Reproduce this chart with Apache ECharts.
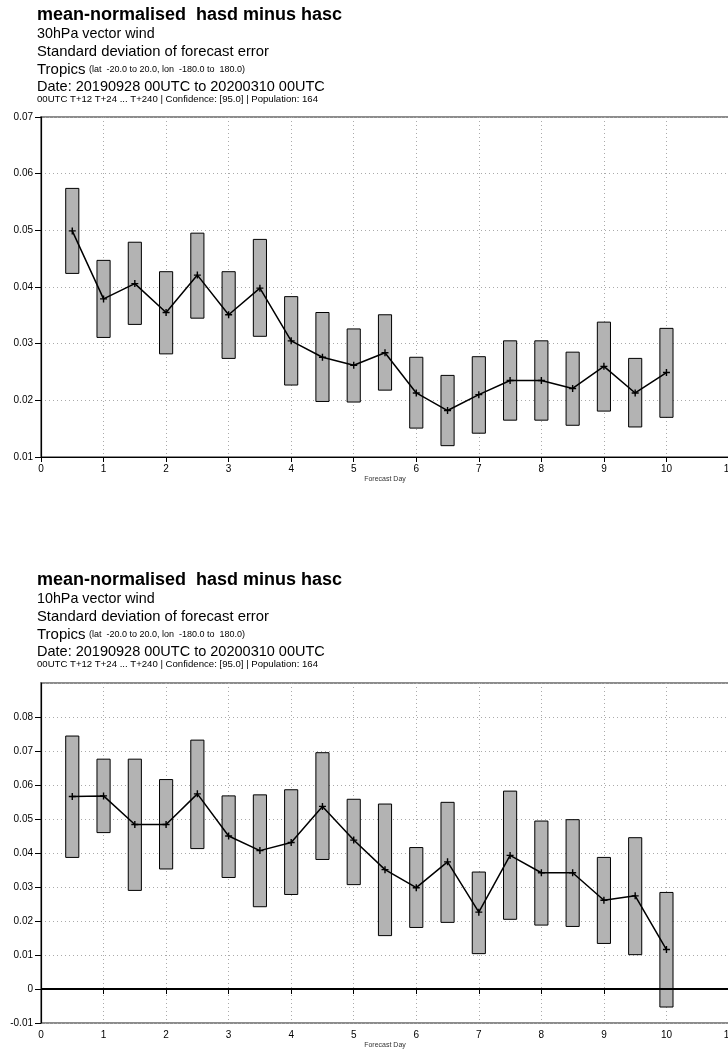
<!DOCTYPE html>
<html>
<head>
<meta charset="utf-8">
<script src="https://cdn.jsdelivr.net/npm/echarts@6/dist/echarts.min.js"></script>
<style>
  html, body { margin: 0; padding: 0; background: #fff; }
  #chart { width: 728px; height: 1051px; }
</style>
</head>
<body>
<div id="chart"></div>
<script>
// Forecast steps (days)
const days = [0.5, 1, 1.5, 2, 2.5, 3, 3.5, 4, 4.5, 5, 5.5, 6, 6.5, 7, 7.5, 8, 8.5, 9, 9.5, 10];

// 30hPa vector wind: mean-normalised difference and 95% confidence range
const mean30  = [0.0499, 0.0379, 0.0406, 0.0355, 0.0421, 0.0351, 0.0398, 0.0305, 0.0276, 0.0262,
                 0.0284, 0.0213, 0.0182, 0.0210, 0.0235, 0.0235, 0.0221, 0.0260, 0.0213, 0.0249];
const upper30 = [0.0574, 0.0447, 0.0479, 0.0427, 0.0495, 0.0427, 0.0484, 0.0383, 0.0355, 0.0326,
                 0.0351, 0.0276, 0.0244, 0.0277, 0.0305, 0.0305, 0.0285, 0.0338, 0.0274, 0.0327];
const lower30 = [0.0424, 0.0311, 0.0334, 0.0282, 0.0345, 0.0274, 0.0313, 0.0227, 0.0198, 0.0197,
                 0.0218, 0.0151, 0.0120, 0.0142, 0.0165, 0.0165, 0.0156, 0.0181, 0.0153, 0.0170];

// 10hPa vector wind
const mean10  = [0.0566, 0.0568, 0.0484, 0.0484, 0.0574, 0.0450, 0.0407, 0.0431, 0.0537, 0.0438,
                 0.0351, 0.0298, 0.0374, 0.0226, 0.0393, 0.0342, 0.0342, 0.0261, 0.0274, 0.0116];
const upper10 = [0.0744, 0.0676, 0.0676, 0.0616, 0.0732, 0.0568, 0.0571, 0.0586, 0.0695, 0.0558,
                 0.0544, 0.0416, 0.0549, 0.0344, 0.0582, 0.0494, 0.0498, 0.0387, 0.0445, 0.0284];
const lower10 = [0.0387, 0.0460, 0.0290, 0.0353, 0.0413, 0.0328, 0.0242, 0.0278, 0.0381, 0.0307,
                 0.0157, 0.0181, 0.0196, 0.0104, 0.0205, 0.0188, 0.0184, 0.0134, 0.0101, -0.0053];

// Header text for each panel
const titleText = 'mean-normalised  hasd minus hasc';
const paramTop = '30hPa vector wind';
const paramBottom = '10hPa vector wind';
const scoreText = 'Standard deviation of forecast error';
const areaName = 'Tropics';
const areaBox = '(lat  -20.0 to 20.0, lon  -180.0 to  180.0)';
const dateText = 'Date: 20190928 00UTC to 20200310 00UTC';
const infoText = '00UTC T+12 T+24 ... T+240 | Confidence: [95.0] | Population: 164';
const xName = 'Forecast Day';

const FONT = '"Liberation Sans", Arial, Helvetica, sans-serif';

const chart = echarts.init(document.getElementById('chart'), null, { renderer: 'canvas' });

function headerLine(x, y, style) {
  return { type: 'text', x: x, y: y, style: Object.assign({ fill: '#000', verticalAlign: 'middle', align: 'left' }, style) };
}

function header(offsetY, param) {
  const x = 37;
  return [
    headerLine(x, offsetY + 15, { text: titleText, font: 'bold 18px ' + FONT }),
    headerLine(x, offsetY + 34, { text: param, font: '14.3px ' + FONT }),
    headerLine(x, offsetY + 51.5, { text: scoreText, font: '14.8px ' + FONT }),
    headerLine(x, offsetY + 69.5, {
      text: '{a|' + areaName + '} {b|' + areaBox + '}',
      rich: {
        a: { font: '15px ' + FONT, fill: '#000' },
        b: { font: '9px ' + FONT, fill: '#000' }
      }
    }),
    headerLine(x, offsetY + 86.5, { text: dateText, font: '14.5px ' + FONT }),
    headerLine(x, offsetY + 99.5, { text: infoText, font: '9.6px ' + FONT })
  ];
}

function fmt(v) {
  if (Math.abs(v) < 1e-9) return '0';
  return v.toFixed(2);
}

function xAxisCfg(gridIndex) {
  return {
    type: 'value', gridIndex: gridIndex, min: 0, max: 11, interval: 1,
    name: xName, nameLocation: 'middle', nameGap: 19,
    nameTextStyle: { fontFamily: FONT, fontSize: 7, color: '#333' },
    axisLine: { show: true, lineStyle: { color: '#000', width: 1.2 } },
    axisTick: { show: true, length: 5, lineStyle: { color: '#000' } },
    axisLabel: { fontFamily: FONT, fontSize: 10, color: '#000', margin: 7 },
    splitLine: { show: true, lineStyle: { color: '#aaa', type: [1, 3], width: 1 } }
  };
}

function yAxisCfg(gridIndex, min, max, showMax) {
  return {
    type: 'value', gridIndex: gridIndex, min: min, max: max, interval: 0.01,
    axisLine: { show: true, lineStyle: { color: '#000', width: 1.2 } },
    axisTick: { show: true, length: 6, lineStyle: { color: '#000' } },
    axisLabel: { fontFamily: FONT, fontSize: 10, color: '#000', margin: 8, formatter: fmt, showMaxLabel: showMax },
    splitLine: { show: true, lineStyle: { color: '#aaa', type: [1, 3], width: 1 } }
  };
}

// Confidence range drawn as a box centred on each forecast step
function boxRenderer(params, api) {
  const x = api.value(0);
  const lo = api.value(1);
  const hi = api.value(2);
  const pTop = api.coord([x, hi]);
  const pBot = api.coord([x, lo]);
  const w = api.size([0.21, 0])[0];
  return {
    type: 'rect',
    shape: { x: pTop[0] - w / 2, y: pTop[1], width: w, height: pBot[1] - pTop[1] },
    style: { fill: '#b3b3b3', stroke: '#000', lineWidth: 1 }
  };
}

const plus = 'path://M4,0h2v4h4v2h-4v4h-2v-4h-4v-2h4z';

function panelSeries(idx, lower, upper, mean, zeroLine) {
  const boxes = days.map((d, i) => [d, lower[i], upper[i]]);
  const line = days.map((d, i) => [d, mean[i]]);
  const s = [
    {
      type: 'custom', xAxisIndex: idx, yAxisIndex: idx,
      renderItem: boxRenderer, data: boxes, z: 2, silent: true
    },
    {
      type: 'line', xAxisIndex: idx, yAxisIndex: idx, data: line, z: 3,
      symbol: plus, symbolSize: 7, showSymbol: true,
      itemStyle: { color: '#000' },
      lineStyle: { color: '#000', width: 1.5 },
      animation: false, silent: true
    }
  ];
  if (zeroLine) {
    s[1].markLine = {
      silent: true, symbol: 'none', label: { show: false },
      lineStyle: { color: '#000', width: 1.8, type: 'solid' },
      data: [{ yAxis: 0 }]
    };
  }
  return s;
}

const gridBase = {
  left: 41, width: 688, height: 340, show: true,
  borderColor: '#8c8c8c', borderWidth: 2, backgroundColor: 'transparent',
  containLabel: false, outerBoundsMode: 'none'
};

const option = {
  backgroundColor: '#fff',
  animation: false,
  graphic: header(0, paramTop).concat(header(565, paramBottom)),
  grid: [
    Object.assign({}, gridBase, { top: 117 }),
    Object.assign({}, gridBase, { top: 683 })
  ],
  xAxis: [xAxisCfg(0), xAxisCfg(1)],
  yAxis: [yAxisCfg(0, 0.01, 0.07, true), yAxisCfg(1, -0.01, 0.09, false)],
  series: panelSeries(0, lower30, upper30, mean30, false)
    .concat(panelSeries(1, lower10, upper10, mean10, true))
};

chart.setOption(option);
</script>
</body>
</html>
